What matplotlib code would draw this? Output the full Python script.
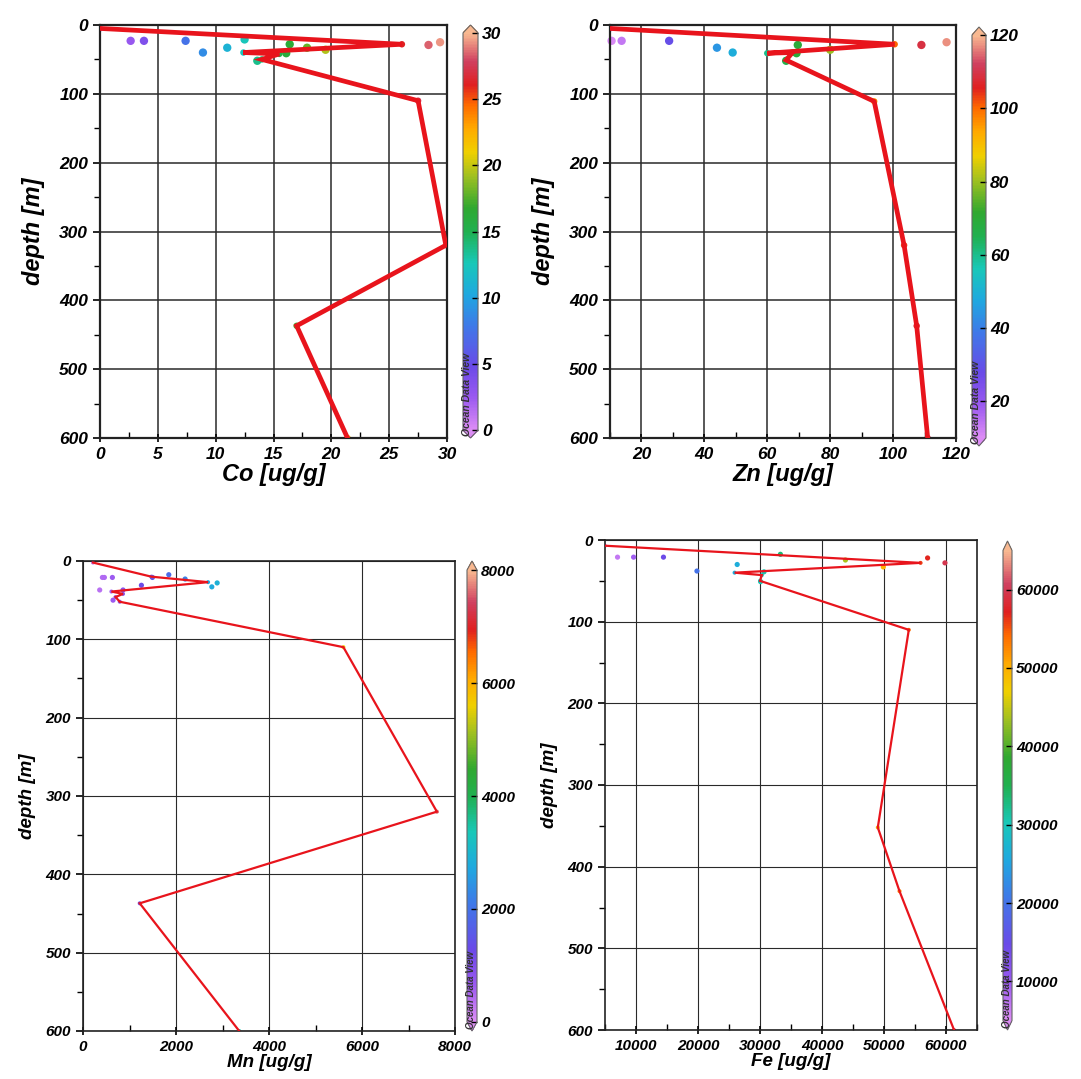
import matplotlib
matplotlib.use("Agg")
import matplotlib.pyplot as plt
from matplotlib.colors import LinearSegmentedColormap
from matplotlib.ticker import MultipleLocator

plt.rcParams["font.family"] = ["Liberation Sans", "DejaVu Sans"]
plt.rcParams["font.weight"] = "bold"
plt.rcParams["font.style"] = "italic"
plt.rcParams["axes.labelweight"] = "bold"

# ---- profile lines (depth, value) ----
co_depth = [5, 28, 40, 42, 50, 110, 320, 437, 600]
co_prof = [0.0, 26.1, 12.4, 15.5, 14.0, 27.5, 29.9, 17.0, 21.4]

zn_depth = [5, 28, 41, 40, 51, 111, 320, 437, 600]
zn_prof = [10.0, 100.5, 60.0, 68.0, 66.0, 94.0, 103.5, 107.5, 111.0]

mn_depth = [2, 20, 27, 39, 42, 46, 52, 110, 320, 437, 600]
mn_prof = [215, 1470, 2690, 611, 860, 700, 790, 5600, 7610, 1220, 3360]

fe_depth = [7, 28, 40, 43, 50, 110, 352, 430, 600]
fe_prof = [5000, 55900, 25900, 30300, 30000, 54000, 49000, 52500, 61300]

# ---- surface samples (scatter) ----
co_pt_depth = [23, 23, 23, 40, 33, 21, 52, 41, 28, 33, 36, 29, 25]
co_pt = [2.65, 3.8, 7.4, 8.9, 11.0, 12.5, 13.6, 16.1, 16.4, 17.9, 19.5, 28.4, 29.4]

zn_pt_depth = [23, 23, 23, 33, 40, 29, 41, 52, 36, 29, 25]
zn_pt = [10.5, 13.7, 28.8, 44, 49, 69.7, 69.3, 66, 80, 109, 117]

mn_pt_depth = [21, 21, 21, 17.5, 31, 37, 50, 37, 21, 23, 33, 28]
mn_pt = [417, 460, 632, 1845, 1256, 359, 646, 861, 1493, 2196, 2770, 2885]

fe_pt_depth = [21, 21, 21, 38, 30, 17.5, 39, 51, 24.5, 33, 22, 28]
fe_pt = [7020, 9610, 14430, 19830, 26320, 33290, 30640, 30100, 43780, 49890, 57030, 59830]

odv = LinearSegmentedColormap.from_list("odv", [
    (0.00, "#dc8cf5"), (0.08, "#9b59f0"), (0.16, "#6a4ae8"), (0.26, "#3f78e8"),
    (0.34, "#1fa8e0"), (0.42, "#18c8b8"), (0.50, "#20b050"), (0.56, "#30a830"),
    (0.64, "#a0c020"), (0.70, "#f0d000"), (0.76, "#ffaa00"), (0.82, "#ff6a00"),
    (0.87, "#e02020"), (0.93, "#d04060"), (1.00, "#f8b890")])

fig = plt.figure(figsize=(10.81, 10.79), dpi=100)
W, H = 1081.0, 1079.0


def box(x0, y0, x1, y1):
    return [x0 / W, 1 - y1 / H, (x1 - x0) / W, (y1 - y0) / H]


def panel(ax_px, cb_px, depth, prof, pdepth, pval, xlim, xmaj, xmin_, cbar_lim, cticks,
          xlabel, big):
    ax = fig.add_axes(box(*ax_px))
    fs_tick = 12.5 if big else 11
    fs_lab = 17 if big else 13.5
    lw = 3.4 if big else 1.6
    s = 36 if big else 14
    vmin, vmax = cbar_lim

    ax.scatter(pval, pdepth, c=pval, cmap=odv, vmin=vmin, vmax=vmax, s=s,
               edgecolors="none", zorder=2, clip_on=False)
    sc = ax.scatter(prof, depth, c=prof, cmap=odv, vmin=vmin, vmax=vmax, s=s * 0.6,
                    edgecolors="none", zorder=2)
    ax.plot(prof, depth, color="#e8141c", lw=lw, zorder=3, solid_joinstyle="miter")

    ax.set_xlim(*xlim)
    ax.set_ylim(600, 0)
    ax.xaxis.set_major_locator(MultipleLocator(xmaj))
    ax.xaxis.set_minor_locator(MultipleLocator(xmin_))
    ax.yaxis.set_major_locator(MultipleLocator(100))
    ax.yaxis.set_minor_locator(MultipleLocator(50))
    ax.grid(True, which="major", color="#2a2a2a", lw=1.1 if big else 0.8)
    ax.set_axisbelow(True)
    for sp in ax.spines.values():
        sp.set_linewidth(1.6 if big else 1.2)
        sp.set_color("#222222")
    ax.tick_params(which="major", direction="out", length=5, width=1.2, labelsize=fs_tick)
    ax.tick_params(axis="x", which="major", direction="inout", length=6)
    ax.tick_params(which="minor", direction="in", length=4, width=1.0)
    ax.tick_params(axis="y", which="minor", direction="out", length=4)
    ax.set_xlabel(xlabel, fontsize=fs_lab, labelpad=1 if big else 0)
    ax.set_ylabel("depth [m]", fontsize=fs_lab, labelpad=10 if big else 7)

    cax = fig.add_axes(box(*cb_px))
    cb = fig.colorbar(sc, cax=cax, extend="both", extendfrac=0.02)
    cb.set_ticks(cticks)
    cb.outline.set_linewidth(0.8)
    cb.outline.set_edgecolor("#666666")
    cax.tick_params(direction="in", length=4, width=1.0, labelsize=fs_tick, pad=3)
    fig.text(cb_px[0] / W - 0.001, 1 - (cb_px[3] - 2) / H, "Ocean Data View",
             rotation=90, ha="left", va="bottom", fontsize=7.5 if big else 7,
             color="#333333")
    return ax


panel((100, 25, 447, 438), (463, 25, 478, 438), co_depth, co_prof, co_pt_depth, co_pt,
      (0, 30), 5, 2.5, (0, 30), [0, 5, 10, 15, 20, 25, 30], "Co [ug/g]", True)
panel((610, 25, 956, 438), (972, 27, 986, 446), zn_depth, zn_prof, zn_pt_depth, zn_pt,
      (10, 120), 20, 10, (10, 120), [20, 40, 60, 80, 100, 120], "Zn [ug/g]", True)
panel((83, 561, 455, 1031), (467, 561, 477, 1031), mn_depth, mn_prof, mn_pt_depth, mn_pt,
      (0, 8000), 2000, 1000, (0, 8000), [0, 2000, 4000, 6000, 8000], "Mn [ug/g]", False)
panel((605, 540, 977, 1030), (1003, 541, 1012, 1030), fe_depth, fe_prof, fe_pt_depth, fe_pt,
      (5000, 65000), 10000, 5000, (5000, 65000),
      [10000, 20000, 30000, 40000, 50000, 60000], "Fe [ug/g]", False)

fig.savefig("out.png", dpi=100)
